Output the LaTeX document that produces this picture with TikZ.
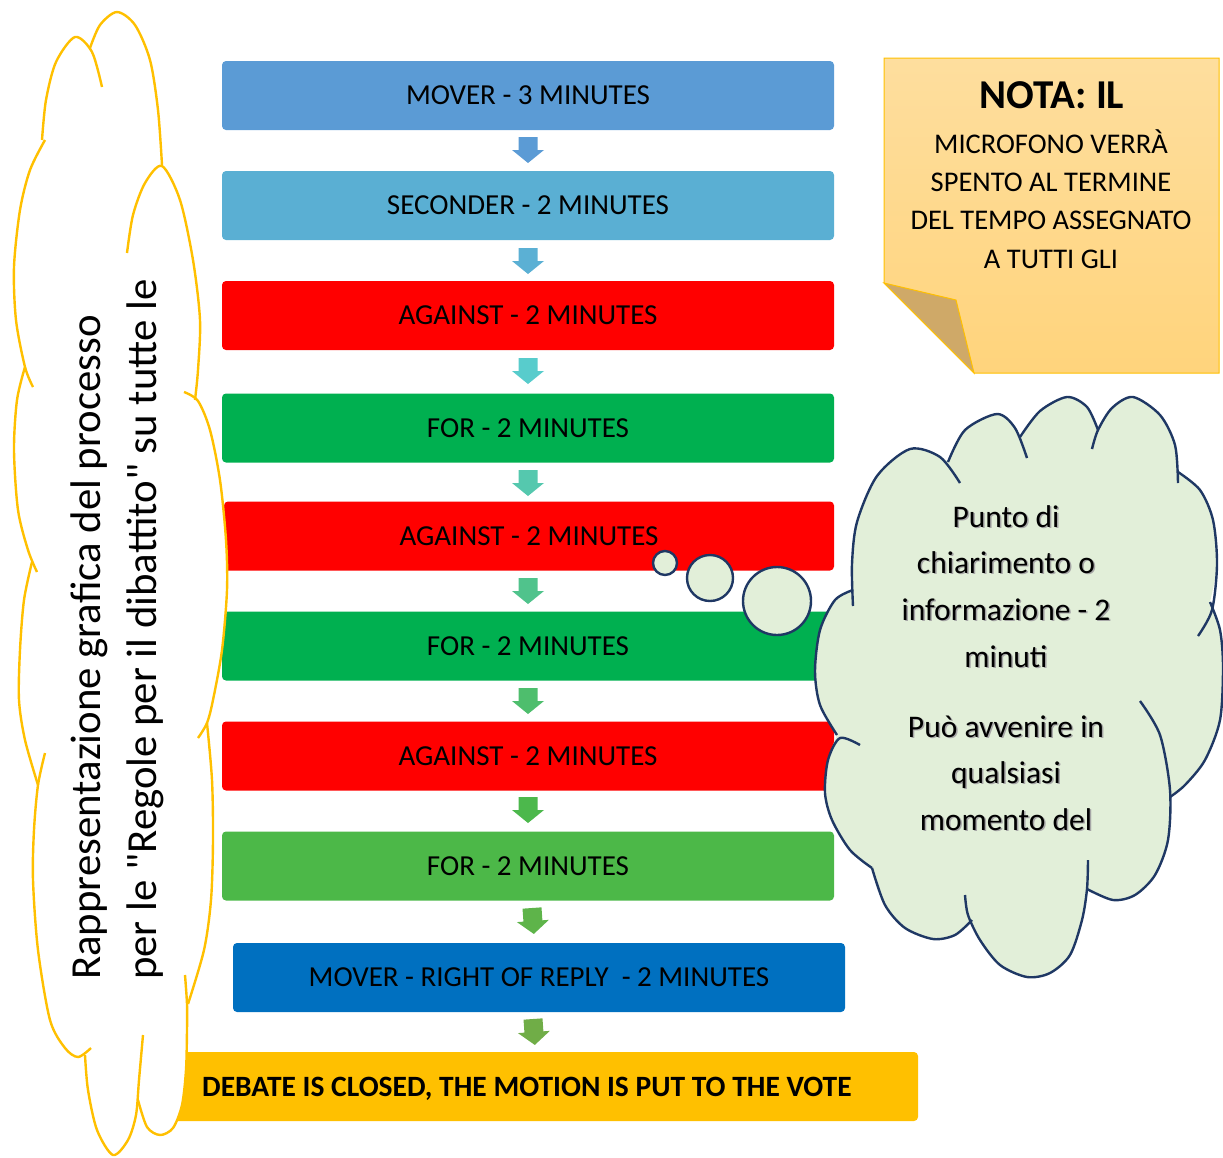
\documentclass[tikz,border=0pt]{standalone}
\usepackage{fontspec}
\setmainfont{Carlito}
\usetikzlibrary{shapes.geometric}
\definecolor{cA}{HTML}{5B9BD5}
\definecolor{cB}{HTML}{5AAFD3}
\definecolor{cRed}{HTML}{FF0000}
\definecolor{cGreen}{HTML}{00B050}
\definecolor{cLgreen}{HTML}{4CB848}
\definecolor{cBlue}{HTML}{0070C0}
\definecolor{cGold}{HTML}{FFC000}
\definecolor{aA}{HTML}{5B9BD5}
\definecolor{aB}{HTML}{5BB0D4}
\definecolor{aC}{HTML}{58CCCC}
\definecolor{aD}{HTML}{55C8AE}
\definecolor{aE}{HTML}{50C38C}
\definecolor{aF}{HTML}{4EBE6D}
\definecolor{aG}{HTML}{4CB84C}
\definecolor{aH}{HTML}{5EB44A}
\definecolor{aI}{HTML}{70AD47}
\definecolor{noteTop}{HTML}{FEDE9E}
\definecolor{noteBot}{HTML}{FFD47C}
\definecolor{foldc}{HTML}{CFA968}
\definecolor{cloudfill}{HTML}{E2EFD9}
\definecolor{cloudline}{HTML}{1F3864}
\begin{document}
\begin{tikzpicture}[x=1pt,y=-1pt,
  stepbox/.style={rectangle, rounded corners=4pt, minimum height=69pt, inner sep=0pt,
    text height=18.7pt, text depth=0pt, font=\fontsize{29}{30}\selectfont},
  blockarr/.pic={\fill[pic actions] (-9.5,0) -- (9.5,0) -- (9.5,13) -- (16,13) -- (0,26) -- (-16,13) -- (-9.5,13) -- cycle;},
  ycloud/.style={draw=cGold, line width=2.4pt},
  gcloud/.style={draw=cloudline, line width=2.4pt},
  notetxt/.style={inner sep=0pt, font=\fontsize{28.5}{30}\selectfont, anchor=base},
  cloudtxt/.style={inner sep=0pt, font=\fontsize{31.5}{33}\selectfont, anchor=base},
  bubble/.style={circle, fill=cloudfill, draw=cloudline, line width=2.4pt, inner sep=0pt}
]
\useasboundingbox (0,0) rectangle (1223,1157);

% process boxes
\node[stepbox, fill=cA, minimum width=612pt] (b1) at (528,95.5) {MOVER - 3 MINUTES};
\node[stepbox, fill=cB, minimum width=612pt] (b2) at (528,205.5) {SECONDER - 2 MINUTES};
\node[stepbox, fill=cRed, minimum width=612pt] (b3) at (528,315.5) {AGAINST - 2 MINUTES};
\node[stepbox, fill=cGreen, minimum width=612pt] (b4) at (528,428) {FOR - 2 MINUTES};
\node[stepbox, fill=cRed, minimum width=610pt] (b5) at (529,536) {AGAINST - 2 MINUTES};
\node[stepbox, fill=cGreen, minimum width=612pt] (b6) at (528,646) {FOR - 2 MINUTES};
\node[stepbox, fill=cRed, minimum width=612pt] (b7) at (528,756) {AGAINST - 2 MINUTES};
\node[stepbox, fill=cLgreen, minimum width=612pt] (b8) at (528,866) {FOR - 2 MINUTES};
\node[stepbox, fill=cBlue, minimum width=612pt] (b9) at (539,977.5) {MOVER - RIGHT OF REPLY\ \ - 2 MINUTES};
\node[stepbox, fill=cGold, minimum width=750pt] (b10) at (543,1086.5) {};
\node[inner sep=0pt, anchor=base west, font=\fontsize{29.5}{30}\selectfont\bfseries] (t10) at (202,1096) {DEBATE IS CLOSED, THE MOTION IS PUT TO THE VOTE};

% block arrows
\pic[fill=aA] (a1) at (528,137) {blockarr};
\pic[fill=aB] (a2) at (528,248) {blockarr};
\pic[fill=aC] (a3) at (528,358) {blockarr};
\pic[fill=aD] (a4) at (528,470) {blockarr};
\pic[fill=aE] (a5) at (528,578) {blockarr};
\pic[fill=aF] (a6) at (528,688) {blockarr};
\pic[fill=aG] (a7) at (528,797) {blockarr};
\pic[fill=aH, rotate=4] (a8) at (532,908) {blockarr};
\pic[fill=aI, rotate=4] (a9) at (533,1019) {blockarr};

% left cloud
\fill[white]
  plot[smooth] coordinates {(90,48) (100,25) (117,12) (135,25) (150,60) (158,110) (162,165)}
  -- plot[smooth] coordinates {(162,165) (180,200) (193,260) (200,320) (198,370) (196,400)}
  -- plot[smooth] coordinates {(196,400) (210,430) (220,480) (226,540) (227,590) (222,650) (207,723)}
  -- plot[smooth] coordinates {(207,723) (212,780) (213,840) (211,900) (204,950) (188,1004)}
  -- plot[smooth] coordinates {(188,1004) (187,1030) (186,1070) (182,1105) (173,1128) (160,1135) (147,1127) (138,1100)}
  -- plot[smooth] coordinates {(138,1100) (136,1115) (128,1140) (113,1155) (97,1130) (88,1090) (85,1055)}
  -- plot[smooth] coordinates {(85,1055) (78,1057) (65,1048) (50,1020) (38,950) (33,880) (34,830) (38,785)}
  -- plot[smooth] coordinates {(38,785) (25,740) (19,700) (20,650) (24,600) (32,562)}
  -- plot[smooth] coordinates {(32,562) (18,510) (14,450) (17,400) (25,367)}
  -- plot[smooth] coordinates {(25,367) (16,320) (14,267) (20,210) (30,170) (43,140)}
  -- plot[smooth] coordinates {(43,140) (46,100) (56,62) (75,37) (90,48)} -- cycle;
\draw[ycloud] plot[smooth] coordinates {(42,140) (46,100) (56,62) (75,37) (92,52) (102,87)};
\draw[ycloud] plot[smooth] coordinates {(90,48) (100,25) (117,12) (135,25) (150,60) (158,110) (162,165)};
\draw[ycloud] plot[smooth] coordinates {(127,253) (133,215) (145,183) (162,166) (180,200) (193,260) (200,320) (198,370) (195,400)};
\draw[ycloud] plot[smooth] coordinates {(184,392) (198,401) (210,430) (220,480) (226,540) (227,590) (222,650) (213,700) (207,723) (198,738)};
\draw[ycloud] plot[smooth] coordinates {(207,723) (212,780) (213,840) (211,900) (204,950) (188,1004)};
\draw[ycloud] plot[smooth] coordinates {(138,1100) (147,1127) (160,1135) (173,1128) (182,1105) (186,1070) (187,1030) (187,1004) (185,975)};
\draw[ycloud] plot[smooth] coordinates {(85,1055) (88,1090) (97,1130) (113,1155) (128,1140) (136,1115) (139,1080) (143,1035)};
\draw[ycloud] plot[smooth] coordinates {(45,753) (38,785) (34,830) (33,880) (38,950) (50,1020) (65,1048) (78,1057) (91,1048)};
\draw[ycloud] plot[smooth] coordinates {(32,562) (24,600) (20,650) (19,700) (25,740) (38,785)};
\draw[ycloud] plot[smooth] coordinates {(25,367) (17,400) (14,450) (18,510) (28,550) (37,572)};
\draw[ycloud] plot[smooth] coordinates {(45,140) (30,170) (20,210) (14,267) (16,320) (25,367) (33,387)};
\node[inner sep=0pt, anchor=base west, rotate=90, font=\fontsize{42.8}{44}\selectfont] (lt1) at (100,980) {Rappresentazione grafica del processo};
\node[inner sep=0pt, anchor=base west, rotate=90, font=\fontsize{42.8}{44}\selectfont] (lt2) at (156,980) {per le \textquotedbl Regole per il dibattito\textquotedbl{} su tutte le};

% note
\draw[top color=noteTop, bottom color=noteBot, draw=cGold, line width=1pt]
  (884,58) -- (1219,58) -- (1219,373) -- (974,373) -- (884,283) -- cycle;
\draw[fill=foldc, draw=cGold, line width=1pt] (884,283) -- (956,300) -- (974,373) -- cycle;
\node[inner sep=0pt, anchor=base, font=\fontsize{41}{42}\selectfont\bfseries] (n0) at (1052,108) {NOTA: IL};
\node[notetxt] (n1) at (1051,153) {MICROFONO VERRÀ};
\node[notetxt] (n2) at (1051,191) {SPENTO AL TERMINE};
\node[notetxt] (n3) at (1051,229) {DEL TEMPO ASSEGNATO};
\node[notetxt] (n4) at (1051,268) {A TUTTI GLI};

% thought bubbles
\node[bubble, minimum size=24pt] (c1) at (665,563) {};
\node[bubble, minimum size=46pt] (c2) at (710,578) {};
\node[bubble, minimum size=68pt] (c3) at (777,601) {};

% right cloud
\fill[cloudfill]
  plot[smooth] coordinates {(853,590) (852,564) (857,522) (877,476) (910,449) (935,453) (948,462)}
  -- plot[smooth] coordinates {(948,462) (965,430) (997,414) (1015,428) (1020,437)}
  -- plot[smooth] coordinates {(1020,437) (1040,411) (1067,397) (1087,407) (1098,430)}
  -- plot[smooth] coordinates {(1098,430) (1112,408) (1133,397) (1160,415) (1175,445) (1178,472)}
  -- plot[smooth] coordinates {(1178,472) (1200,490) (1213,520) (1217,564) (1210,602)}
  -- plot[smooth] coordinates {(1210,602) (1220,630) (1223,667) (1220,720) (1205,760) (1185,785) (1170,797)}
  -- plot[smooth] coordinates {(1170,797) (1168,840) (1155,875) (1135,895) (1113,900) (1087,889)}
  -- plot[smooth] coordinates {(1087,889) (1082,920) (1070,955) (1050,973) (1027,977) (1000,965) (980,940) (970,920)}
  -- plot[smooth] coordinates {(970,920) (955,935) (933,939) (905,928) (885,905) (872,868)}
  -- plot[smooth] coordinates {(872,868) (850,850) (832,820) (825,793) (828,760) (837,735)}
  -- plot[smooth] coordinates {(837,735) (820,705) (815,671) (820,630) (835,600) (853,590)} -- cycle;
\draw[gcloud] plot[smooth] coordinates {(853,606) (852,564) (857,522) (877,476) (910,449) (940,457) (960,483)};
\draw[gcloud] plot[smooth] coordinates {(948,462) (965,430) (997,414) (1015,428) (1027,458)};
\draw[gcloud] plot[smooth] coordinates {(1020,437) (1040,411) (1067,397) (1087,407) (1098,430)};
\draw[gcloud] plot[smooth] coordinates {(1092,449) (1098,430) (1112,408) (1133,397) (1160,415) (1175,445) (1178,483)};
\draw[gcloud] plot[smooth] coordinates {(1178,472) (1200,490) (1213,520) (1217,564) (1212,610) (1198,636)};
\draw[gcloud] plot[smooth] coordinates {(1210,602) (1220,630) (1223,667) (1220,720) (1205,760) (1185,785) (1170,797)};
\draw[gcloud] plot[smooth] coordinates {(1140,701) (1160,735) (1170,790) (1168,840) (1155,875) (1135,895) (1113,900) (1087,889)};
\draw[gcloud] plot[smooth] coordinates {(1088,860) (1087,889) (1082,920) (1070,955) (1050,973) (1027,977) (1000,965) (980,940) (968,915) (965,895)};
\draw[gcloud] plot[smooth] coordinates {(972,920) (955,935) (933,939) (905,928) (885,905) (872,868)};
\draw[gcloud] plot[smooth] coordinates {(872,868) (850,850) (832,820) (825,793) (828,760) (840,738) (860,745)};
\draw[gcloud] plot[smooth] coordinates {(837,735) (820,705) (815,671) (820,630) (835,600) (853,590)};

\foreach \t/\y [count=\i] in {Punto di/527, chiarimento o/573, informazione - 2/620, minuti/667, Può avvenire in/737, qualsiasi/783, momento del/830}{
  \node[cloudtxt, text=black!35] (rs\i) at (1007.5,\y+1.5) {\t};
  \node[cloudtxt] (r\i) at (1006,\y) {\t};
}
\end{tikzpicture}
\end{document}
